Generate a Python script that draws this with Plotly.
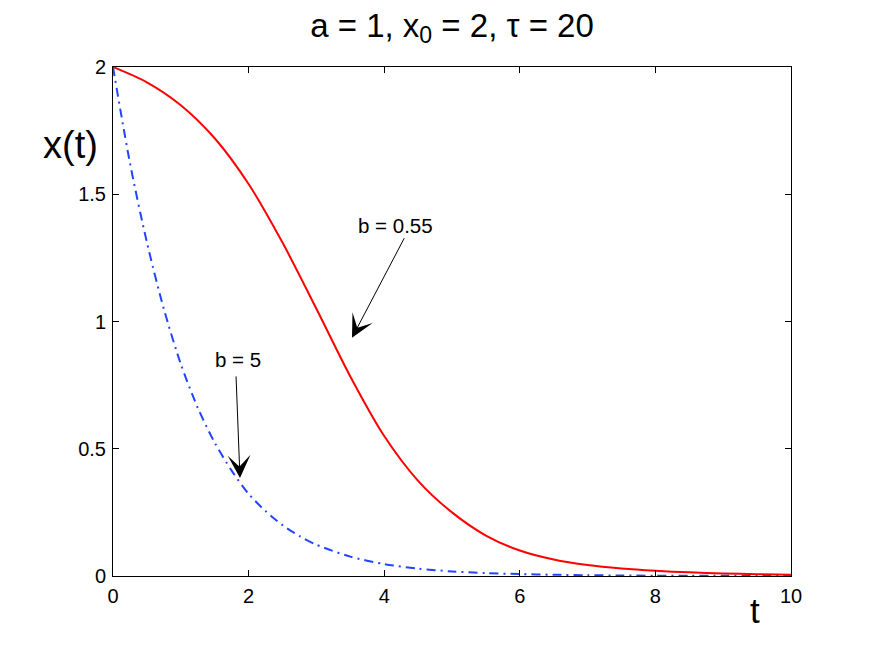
import plotly.graph_objects as go

# solutions
t_red = [0, 0.5, 1, 1.5, 2, 2.5, 3, 3.5, 4, 4.5, 5, 5.5, 6, 6.5, 7, 7.5,
         8, 8.5, 9, 9.5, 10]
x_b055 = [2.0, 1.940, 1.850, 1.720, 1.540, 1.310, 1.050, 0.784, 0.550, 0.374,
          0.250, 0.159, 0.100, 0.0646, 0.0428, 0.0293, 0.0204, 0.0144, 0.0102,
          0.0073, 0.0052]

t_blue = [0, 0.25, 0.5, 0.75, 1, 1.25, 1.5, 1.75, 2, 2.25, 2.5, 2.75, 3,
          3.5, 4, 4.5, 5, 5.5, 6, 6.5, 7, 7.5, 8, 8.5, 9, 9.5, 10]
x_b5 = [2.0, 1.623, 1.311, 1.049, 0.833, 0.661, 0.524, 0.414, 0.323, 0.255,
        0.200, 0.157, 0.123, 0.076, 0.047, 0.029, 0.018, 0.0115, 0.0075,
        0.005, 0.0032, 0.002, 0.0013, 0.001, 0.0006, 0.0004, 0.0003]

x_ticks = [0, 2, 4, 6, 8, 10]
y_ticks = [0, 0.5, 1, 1.5, 2]

# arrow heads / tails and label positions, in data units
arrow_heads = [(3.525, 0.936), (1.873, 0.385)]
arrow_tails = [(4.307, 1.333), (1.814, 0.79)]
labels = ['b = 0.55', 'b = 5']
label_pos = [(4.16, 1.377), (1.844, 0.85)]

FONT = "Liberation Sans, Arial, Helvetica, sans-serif"

fig = go.Figure()
fig.add_trace(go.Scatter(x=t_red, y=x_b055, mode='lines',
                         line=dict(color='#ff0000', width=2, shape='spline', smoothing=0.8),
                         showlegend=False))
fig.add_trace(go.Scatter(x=t_blue, y=x_b5, mode='lines',
                         line=dict(color='#2244ff', width=2, dash='9px,5px,2px,5px',
                                   shape='spline', smoothing=0.8),
                         showlegend=False))

axis_common = dict(showline=True, linecolor='black', linewidth=1, mirror='ticks',
                   ticks='inside', ticklen=6, tickcolor='black', showgrid=False,
                   zeroline=False, tickfont=dict(family=FONT, size=20, color='black'))

fig.update_xaxes(range=[0, 10], tickvals=x_ticks, ticktext=[str(v) for v in x_ticks],
                 ticklabelstandoff=2, **axis_common)
fig.update_yaxes(range=[0, 2], tickvals=y_ticks, ticktext=[f'{v:g}' for v in y_ticks],
                 ticklabelstandoff=2, **axis_common)

# arrows drawn with empty text so they start exactly at the tail
for (ht, hx), (tt, tx) in zip(arrow_heads, arrow_tails):
    fig.add_annotation(x=ht, y=hx, ax=tt, ay=tx, xref='x', yref='y', axref='x', ayref='y',
                       text='', showarrow=True, arrowhead=3, arrowsize=3.8,
                       arrowwidth=1, arrowcolor='black')

for txt, (lt, lx) in zip(labels, label_pos):
    fig.add_annotation(x=lt, y=lx, xref='x', yref='y', text=txt, showarrow=False,
                       xanchor='center', yanchor='middle',
                       font=dict(family=FONT, size=20.5, color='black'))

# axis labels placed like the MATLAB figure
fig.add_annotation(text='x(t)', xref='paper', yref='paper', x=-0.062, y=0.847,
                   xanchor='center', yanchor='middle', showarrow=False,
                   font=dict(family=FONT, size=38, color='black'))
fig.add_annotation(text='t', xref='paper', yref='paper', x=0.947, y=-0.067,
                   xanchor='center', yanchor='middle', showarrow=False,
                   font=dict(family=FONT, size=35, color='black'))

# page body has an 8px margin, so the figure is sized/offset to land on the same pixels
fig.update_layout(
    width=856, height=632,
    margin=dict(l=105, r=73, t=59, b=64),
    paper_bgcolor='white', plot_bgcolor='white',
    title=dict(text='a = 1, x<sub>0</sub> = 2, \u03c4 = 20', x=0.5, xref='paper',
               xanchor='center', y=1 - 17 / 632, yanchor='middle', yref='container',
               font=dict(family=FONT, size=33, color='black')),
)

fig.write_html("out.html")
